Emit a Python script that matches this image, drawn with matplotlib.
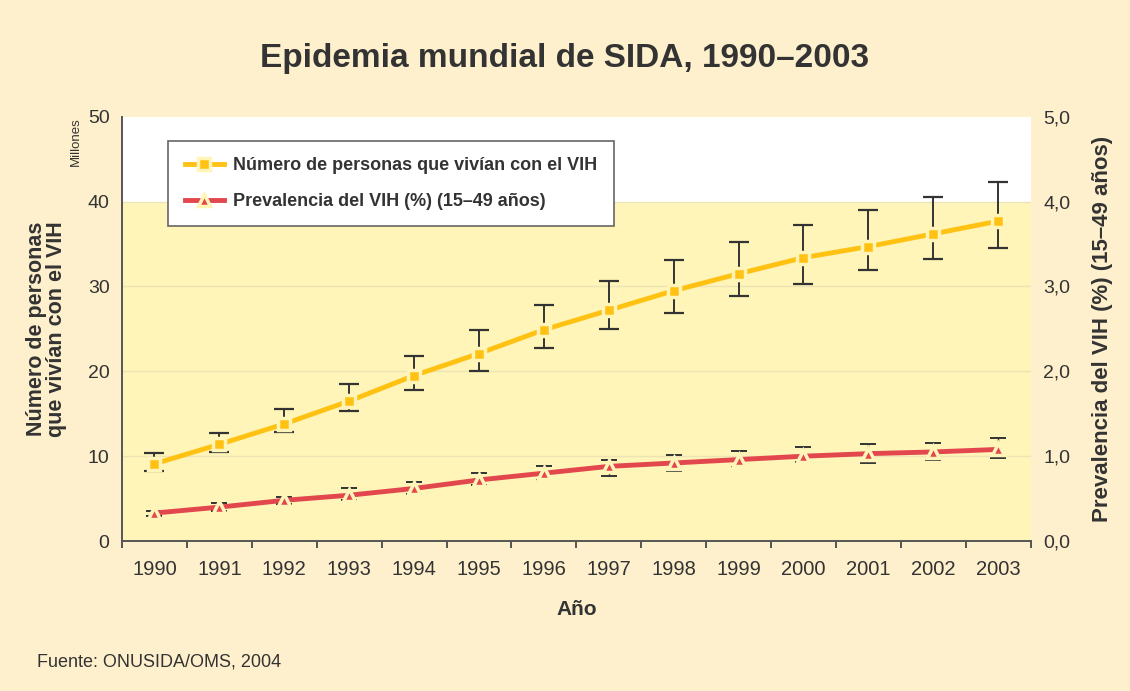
import numpy as np
import matplotlib.pyplot as plt

# Data (UNAIDS/WHO 2004)
years = ['1990', '1991', '1992', '1993', '1994', '1995', '1996',
         '1997', '1998', '1999', '2000', '2001', '2002', '2003']

# people living with HIV, millions
people = [9.1, 11.4, 13.8, 16.5, 19.5, 22.1, 24.9, 27.2, 29.5, 31.5, 33.4, 34.7, 36.2, 37.7]
people_hi = [10.4, 12.7, 15.6, 18.5, 21.8, 24.9, 27.8, 30.6, 33.1, 35.3, 37.2, 39.0, 40.6, 42.3]
people_lo = [8.3, 10.5, 12.9, 15.3, 17.8, 20.0, 22.8, 25.0, 26.9, 28.9, 30.3, 31.9, 33.2, 34.5]

# HIV prevalence (%), adults 15-49
prev = [0.33, 0.40, 0.48, 0.54, 0.62, 0.72, 0.80, 0.88, 0.92, 0.96, 1.00, 1.03, 1.05, 1.08]
prev_hi = [0.36, 0.45, 0.52, 0.62, 0.70, 0.80, 0.88, 0.95, 1.01, 1.06, 1.11, 1.14, 1.16, 1.21]
prev_lo = [0.30, 0.36, 0.44, 0.48, 0.56, 0.66, 0.72, 0.77, 0.82, 0.87, 0.93, 0.92, 0.96, 0.98]

bg = '#FEF0CD'
plot_yellow = '#FFF5B8'
yellow = '#FFC213'
red = '#E2474D'
txt = '#333333'

plt.rcParams['font.family'] = ['Liberation Sans', 'DejaVu Sans']

fig = plt.figure(figsize=(11.3, 6.91), dpi=100, facecolor=bg)
ax = fig.add_axes([0.108, 0.217, 0.804, 0.614])
ax.set_facecolor(plot_yellow)
ax.axhspan(40, 50, color='white', zorder=0)
for g in [10, 20, 30, 40]:
    ax.axhline(g, color='#EDE4B6', lw=1, zorder=1)

x = np.arange(len(years))
ax.set_xlim(-0.5, len(years) - 0.5)
ax.set_ylim(0, 50)

ax2 = ax.twinx()
ax2.set_ylim(0, 5)

# error bars first so the series lines sit on top
ax.errorbar(x, people, yerr=[np.subtract(people, people_lo), np.subtract(people_hi, people)],
            fmt='none', ecolor='#333333', elinewidth=1.4, capsize=7, capthick=1.6, zorder=2)
ax2.errorbar(x, prev, yerr=[np.subtract(prev, prev_lo), np.subtract(prev_hi, prev)],
             fmt='none', ecolor='#333333', elinewidth=1.0, capsize=6, capthick=1.4, zorder=2)

l1, = ax.plot(x, people, color=yellow, lw=3.5, marker='s', ms=8, mfc=yellow,
              mec=plot_yellow, mew=2.5, zorder=3, label='Número de personas que vivían con el VIH')
l2, = ax2.plot(x, prev, color=red, lw=3.5, marker='^', ms=8, mfc=red,
               mec=plot_yellow, mew=2.5, zorder=3, label='Prevalencia del VIH (%) (15–49 años)')

# axes styling
for a in (ax, ax2):
    for s in ['top', 'right']:
        a.spines[s].set_visible(False)
ax2.spines['left'].set_visible(False)
ax2.spines['bottom'].set_visible(False)
ax.spines['left'].set_color('#555555')
ax.spines['bottom'].set_color('#555555')
ax.spines['left'].set_linewidth(1.4)
ax.spines['bottom'].set_linewidth(1.4)

ax.set_xticks(x)
ax.set_xticklabels(years)
ax.set_xticks(np.arange(-0.5, len(years)), minor=True)
ax.tick_params(axis='x', which='major', length=0, pad=14, labelsize=14.5, colors=txt)
ax.tick_params(axis='x', which='minor', length=5, width=1.4, color='#555555')
ax.set_yticks([0, 10, 20, 30, 40, 50])
ax.tick_params(axis='y', length=0, pad=9, labelsize=14, colors=txt)
ax2.set_yticks([0, 1, 2, 3, 4, 5])
ax2.set_yticklabels([f'{v:.1f}'.replace('.', ',') for v in range(6)])
ax2.tick_params(axis='y', length=0, pad=9, labelsize=14, colors=txt)

ax.set_xlabel('Año', fontsize=15, fontweight='bold', color=txt, labelpad=15)
ax.set_ylabel('Número de personas\nque vivían con el VIH', fontsize=15.5, fontweight='bold',
              color=txt, labelpad=15, linespacing=0.95)
ax2.set_ylabel('Prevalencia del VIH (%) (15–49 años)', fontsize=16, fontweight='bold',
               color=txt, labelpad=16)
fig.text(0.067, 0.83, 'Millones', rotation=90, fontsize=9.5, color=txt, ha='center', va='top')

leg = ax.legend(handles=[l1, l2], loc='upper left', bbox_to_anchor=(0.051, 0.943),
                fontsize=13, frameon=True, fancybox=False, edgecolor='#666666',
                facecolor='white', framealpha=1, handlelength=2.2, handletextpad=0.5,
                borderpad=0.9, labelspacing=1.05, borderaxespad=0)
leg.get_frame().set_linewidth(1.2)
for t in leg.get_texts():
    t.set_color(txt)
    t.set_fontweight('bold')

fig.text(0.5, 0.915, 'Epidemia mundial de SIDA, 1990–2003', ha='center', va='center',
         fontsize=24, fontweight='bold', color=txt)
fig.text(0.033, 0.036, 'Fuente: ONUSIDA/OMS, 2004', fontsize=13, color=txt)

fig.savefig('out.png', dpi=100, facecolor=bg)
